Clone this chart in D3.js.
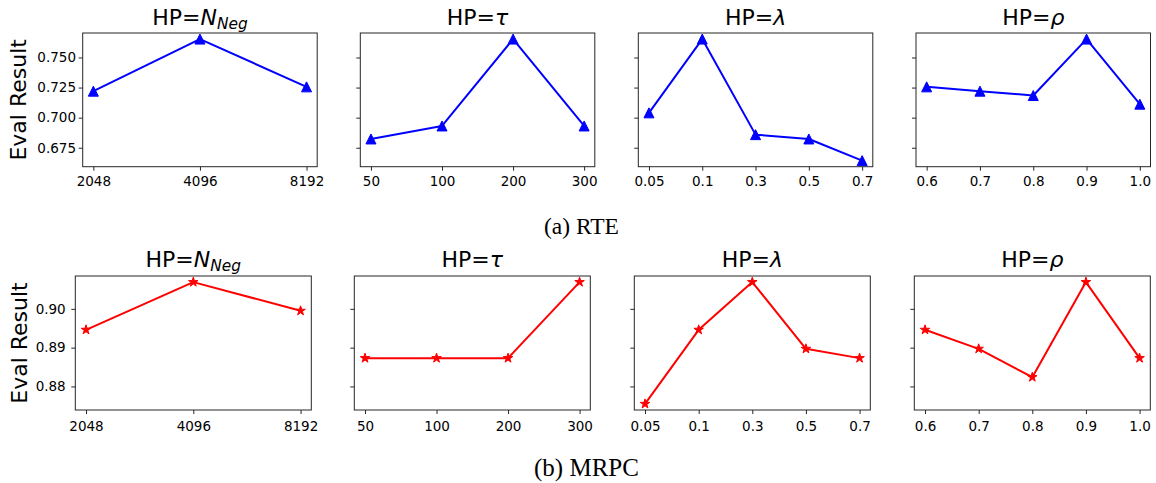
<!DOCTYPE html>
<html><head><meta charset="utf-8">
<script src="https://cdn.jsdelivr.net/npm/d3@7"></script>
<style>
html,body{margin:0;padding:0;background:#fff;}
svg{display:block;}
</style></head>
<body>
<svg id="chart" width="1156" height="483"></svg>
<script>
// ---- data ----
const nnegLabels = ["2048", "4096", "8192"];
const tauLabels = ["50", "100", "200", "300"];
const lambdaLabels = ["0.05", "0.1", "0.3", "0.5", "0.7"];
const rhoLabels = ["0.6", "0.7", "0.8", "0.9", "1.0"];

const rteNNeg = [0.7220, 0.7653, 0.7256];
const rteTau = [0.6823, 0.6931, 0.7653, 0.6931];
const rteLambda = [0.7040, 0.7653, 0.6859, 0.6823, 0.6643];
const rteRho = [0.7256, 0.7220, 0.7184, 0.7653, 0.7112];

const mrpcNNeg = [0.8946, 0.9069, 0.8995];
const mrpcTau = [0.8873, 0.8873, 0.8873, 0.9069];
const mrpcLambda = [0.8755, 0.8946, 0.9069, 0.8897, 0.8873];
const mrpcRho = [0.8946, 0.8897, 0.8824, 0.9069, 0.8873];

const rteTicks = [0.675, 0.700, 0.725, 0.750];
const mrpcTicks = [0.88, 0.89, 0.90];

const hpNames = ["nneg", "tau", "lambda", "rho"];
const captions = ["(a) RTE", "(b) MRPC"];
const yLabel = "Eval Result";

// ---- layout ----
const svg = d3.select("#chart");
const FONT = "'DejaVu Sans', sans-serif";
const frameColor = "#262626";

const rows = [
  {
    lefts: [82.7, 360.3, 638.3, 916], width: 234.5, top: 33, bottom: 166.7,
    series: [rteNNeg, rteTau, rteLambda, rteRho], ticks: rteTicks, fmt: d3.format(".3f"),
    color: "#0000ff", marker: "tri", yLabelX: 26.3, ylabPad: 2.7, xlabBase: 19.5,
    titleBase: 25, caption: captions[0], capX: 581.5, capY: 233.5, capSize: 23.5
  },
  {
    lefts: [75.3, 354.3, 634.3, 914.3], width: 236, top: 276, bottom: 410,
    series: [mrpcNNeg, mrpcTau, mrpcLambda, mrpcRho], ticks: mrpcTicks, fmt: d3.format(".2f"),
    color: "#ff0000", marker: "star", yLabelX: 26.5, ylabPad: 5.6, xlabBase: 21,
    titleBase: 266.7, caption: captions[1], capX: 586.5, capY: 475.5, capSize: 25
  }
];
const xLabelSets = [nnegLabels, tauLabels, lambdaLabels, rhoLabels];

// custom matplotlib-style '^' marker
const triangleType = {
  draw(ctx, size) {
    const r = Math.sqrt(size) / 2;
    ctx.moveTo(0, -r); ctx.lineTo(r, r); ctx.lineTo(-r, r); ctx.closePath();
  }
};

function addTitle(g, cx, baseY, hp) {
  const t = g.append("text").attr("x", cx).attr("y", baseY)
    .attr("text-anchor", "middle").attr("font-family", FONT).attr("font-size", 22).attr("fill", "#000");
  t.append("tspan").text("HP=");
  if (hp === "nneg") {
    t.append("tspan").attr("font-style", "italic").text("N");
    t.append("tspan").attr("font-style", "italic").attr("font-size", 15.4).attr("dy", 4).text("Neg");
  } else if (hp === "tau") {
    t.append("tspan").attr("font-style", "italic").text("τ");
  } else if (hp === "lambda") {
    t.append("tspan").attr("font-style", "italic").text("λ");
  } else {
    t.append("tspan").attr("font-style", "italic").text("ρ");
  }
}

rows.forEach((row) => {
  const allVals = row.series.flat();
  const vmin = d3.min(allVals), vmax = d3.max(allVals);
  const pad = (vmax - vmin) * 0.05;
  const y = d3.scaleLinear().domain([vmin - pad, vmax + pad]).range([row.bottom, row.top]);

  row.series.forEach((vals, pi) => {
    const labels = xLabelSets[pi];
    const n = labels.length;
    const left = row.lefts[pi], right = left + row.width;
    const x = d3.scaleLinear().domain([-0.05 * (n - 1), (n - 1) * 1.05]).range([left, right]);
    const g = svg.append("g");

    // y axis ticks
    const yAxis = d3.axisLeft(y).tickValues(row.ticks).tickSize(4).tickSizeOuter(0).tickPadding(row.ylabPad)
      .tickFormat(pi === 0 ? row.fmt : () => "");
    const ya = g.append("g").attr("transform", `translate(${left},0)`).call(yAxis);
    ya.select(".domain").remove();
    ya.selectAll("line").attr("stroke", frameColor).attr("stroke-width", 1);
    ya.selectAll("text").attr("font-family", FONT).attr("font-size", 13.5).attr("fill", "#000");

    // x axis ticks
    const xAxis = d3.axisBottom(x).tickValues(d3.range(n)).tickSize(4).tickSizeOuter(0)
      .tickFormat(i => labels[i]);
    const xa = g.append("g").attr("transform", `translate(0,${row.bottom})`).call(xAxis);
    xa.select(".domain").remove();
    xa.selectAll("line").attr("stroke", frameColor).attr("stroke-width", 1);
    xa.selectAll("text").attr("font-family", FONT).attr("font-size", 13.5).attr("fill", "#000")
      .attr("dy", null).attr("y", row.xlabBase);

    // frame
    g.append("rect").attr("x", left).attr("y", row.top)
      .attr("width", row.width).attr("height", row.bottom - row.top)
      .attr("fill", "none").attr("stroke", frameColor).attr("stroke-width", 1);

    // line
    const line = d3.line().x((d, i) => x(i)).y(d => y(d));
    g.append("path").datum(vals).attr("d", line).attr("fill", "none")
      .attr("stroke", row.color).attr("stroke-width", 2).attr("stroke-linejoin", "round");

    // markers
    const sym = row.marker === "tri"
      ? d3.symbol().type(triangleType).size(100)
      : d3.symbol().type(d3.symbolStar).size(28);
    g.selectAll(".mk").data(vals).join("path")
      .attr("transform", (d, i) => `translate(${x(i)},${y(d)})`)
      .attr("d", sym).attr("fill", row.color).attr("stroke", row.color).attr("stroke-width", 1);

    addTitle(g, (left + right) / 2, row.titleBase, hpNames[pi]);
  });

  // y label
  const cy = (row.top + row.bottom) / 2;
  svg.append("text").attr("transform", `translate(${row.yLabelX},${cy}) rotate(-90)`)
    .attr("text-anchor", "middle").attr("font-family", FONT).attr("font-size", 22).attr("fill", "#000")
    .text(yLabel);

  // caption
  svg.append("text").attr("x", row.capX).attr("y", row.capY).attr("text-anchor", "middle")
    .attr("font-family", "'Liberation Serif', 'Times New Roman', serif").attr("font-size", row.capSize)
    .attr("fill", "#000").text(row.caption);
});
</script>
</body></html>
